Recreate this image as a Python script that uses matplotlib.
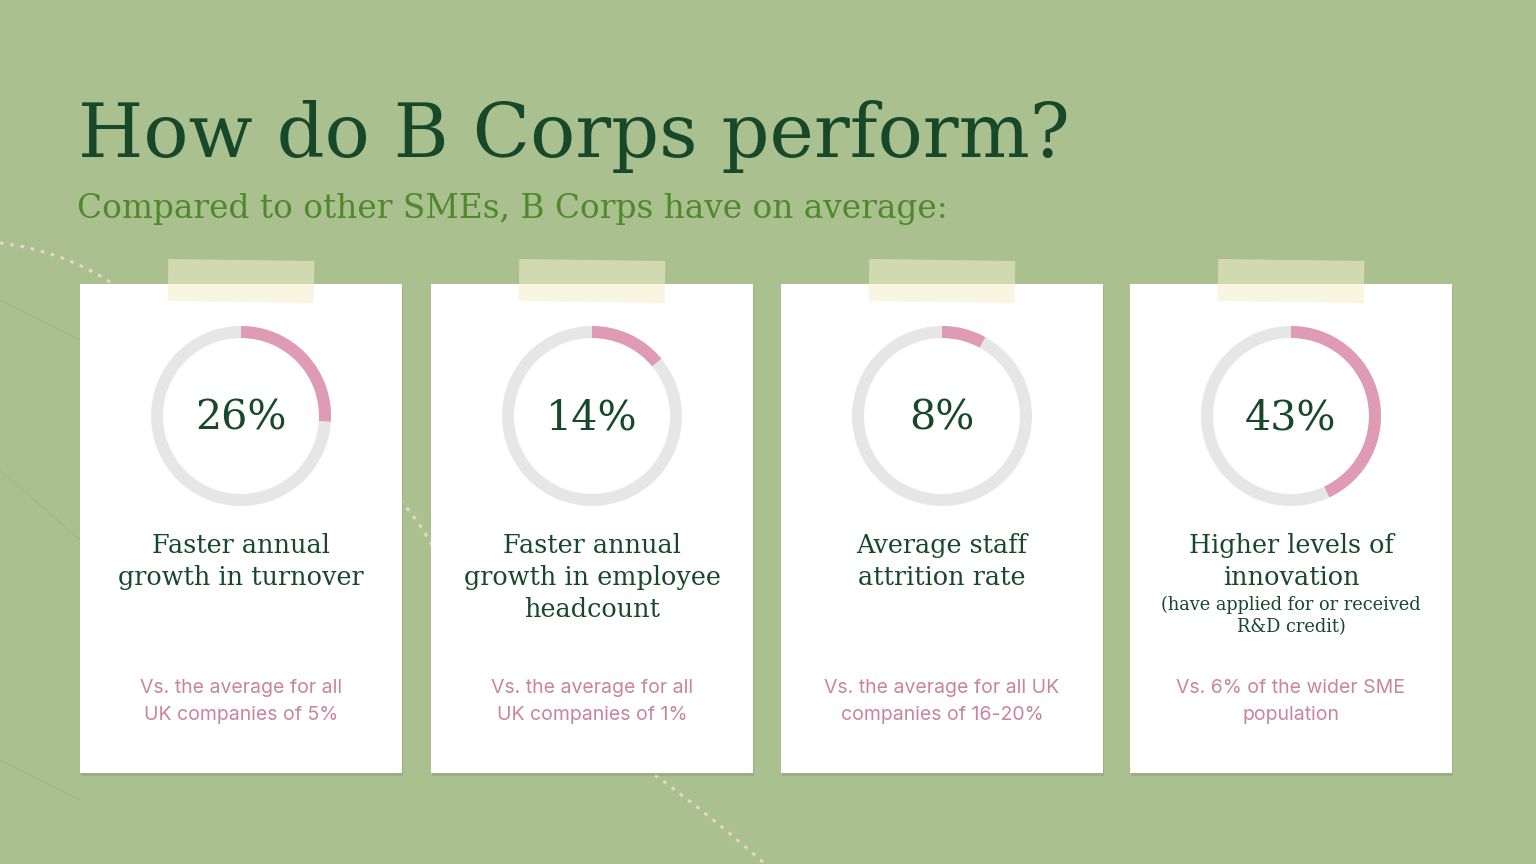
import matplotlib
matplotlib.use("Agg")
import matplotlib.pyplot as plt
from matplotlib.patches import Rectangle, Wedge
from matplotlib.path import Path
from matplotlib.patches import PathPatch
import matplotlib.transforms as mtransforms

# data
values = [26, 14, 8, 43]
value_labels = ["26%", "14%", "8%", "43%"]
headlines = [
    ["Faster annual", "growth in turnover"],
    ["Faster annual", "growth in employee", "headcount"],
    ["Average staff", "attrition rate"],
    ["Higher levels of", "innovation"],
]
notes = [[], [], [], ["(have applied for or received", "R&D credit)"]]
comparisons = [
    ["Vs. the average for all", "UK companies of 5%"],
    ["Vs. the average for all", "UK companies of 1%"],
    ["Vs. the average for all UK", "companies of 16-20%"],
    ["Vs. 6% of the wider SME", "population"],
]
title = "How do B Corps perform?"
subtitle = "Compared to other SMEs, B Corps have on average:"

BG = "#aac08f"
DARK = "#17482a"
GREEN = "#4e8a2c"
PINK = "#e09bb4"
RING = "#e6e6e6"
PINK_TXT = "#c9849f"
SERIF = ["DejaVu Serif"]
SANS = ["Inter", "DejaVu Sans"]

fig = plt.figure(figsize=(15.36, 8.64), dpi=100)
fig.patch.set_facecolor(BG)
ax = fig.add_axes([0, 0, 1, 1])
ax.set_xlim(0, 1536)
ax.set_ylim(864, 0)
ax.axis("off")
ax.set_facecolor(BG)

# decorative dotted curves in the background
def dotted_curve(pts):
    codes = [Path.MOVETO] + [Path.CURVE3] * (len(pts) - 1)
    p = PathPatch(Path(pts, codes), fill=False, edgecolor="#f0d2c4",
                  lw=2.2, linestyle=(0, (1.2, 2.2)), zorder=1)
    ax.add_patch(p)

dotted_curve([(0, 243), (60, 250), (110, 282)])
dotted_curve([(400, 500), (418, 520), (432, 545)])
dotted_curve([(655, 775), (710, 815), (765, 864)])

# faint background lines
for (x0, y0, x1, y1) in [(0, 300, 80, 340), (0, 470, 80, 540), (0, 760, 80, 800)]:
    ax.plot([x0, x1], [y0, y1], color="#a0b688", lw=0.7, zorder=1)

ax.text(78, 157, title, fontsize=54, color=DARK, family=SERIF,
        va="baseline", ha="left", zorder=5)
ax.text(77, 218, subtitle, fontsize=23.6, color=GREEN, family=SERIF,
        va="baseline", ha="left", zorder=5)

card_x = [80, 431, 781, 1130]
card_w = 322
card_top = 284
card_h = 489

for i in range(len(values)):
    x0 = card_x[i]
    cx = x0 + card_w / 2

    # shadow and card
    ax.add_patch(Rectangle((x0 + 1, card_top + 3), card_w, card_h,
                           facecolor="#7f9468", alpha=0.35, lw=0, zorder=2))
    ax.add_patch(Rectangle((x0, card_top), card_w, card_h,
                           facecolor="white", lw=0, zorder=3))

    # tape strip
    tape = Rectangle((x0 + 88, 260), 146, 42, facecolor="#f3efc8",
                     alpha=0.55, lw=0, zorder=4)
    rot = mtransforms.Affine2D().rotate_deg_around(x0 + 161, 281, 0.8)
    tape.set_transform(rot + ax.transData)
    ax.add_patch(tape)

    # donut
    cy = 416
    ax.add_patch(Wedge((cx, cy), 90, 0, 360, width=12, facecolor=RING,
                       lw=0, zorder=4))
    ax.add_patch(Wedge((cx, cy), 90, 270, 270 + 360 * values[i] / 100,
                       width=12, facecolor=PINK, lw=0, zorder=5))
    ax.text(cx, 430, value_labels[i], fontsize=29.7, color=DARK, family=SERIF,
            ha="center", va="baseline", zorder=6)

    for k, line in enumerate(headlines[i]):
        ax.text(cx, 553 + 32 * k, line, fontsize=18.4, color=DARK, family=SERIF,
                ha="center", va="baseline", zorder=6)
    for k, line in enumerate(notes[i]):
        ax.text(cx, 610 + 22 * k, line, fontsize=12.8, color=DARK, family=SERIF,
                ha="center", va="baseline", zorder=6)
    for k, line in enumerate(comparisons[i]):
        ax.text(cx, 693 + 27 * k, line, fontsize=14, color=PINK_TXT, family=SANS,
                ha="center", va="baseline", zorder=6)

fig.savefig("out.png", dpi=100, facecolor=BG)
